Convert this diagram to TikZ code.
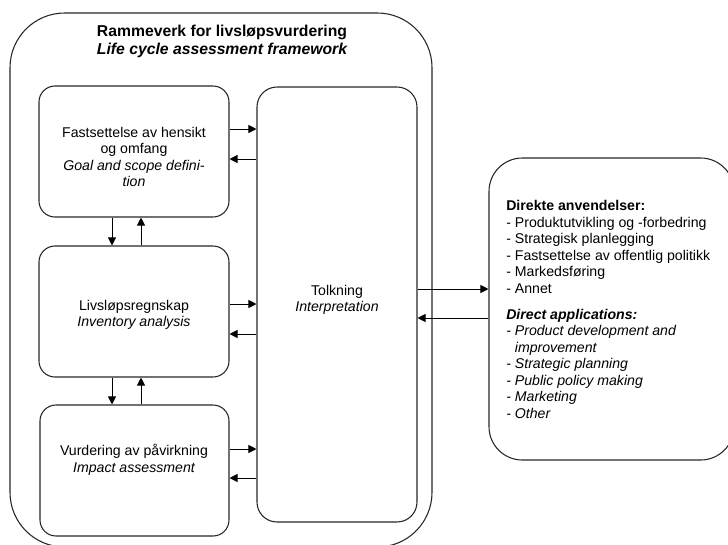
\documentclass[tikz,border=0pt]{standalone}
\usepackage{fontspec}
\setmainfont{Liberation Sans}
\usetikzlibrary{fit,arrows.meta}
\begin{document}
\begin{tikzpicture}[x=0.75pt,y=-0.75pt,
 box/.style={draw=black!85, line width=0.8pt, rounded corners=12pt, inner sep=0pt},
 arr/.style={draw, line width=0.75pt, -{Triangle[length=6pt,width=6pt]}},
 txt/.style={font=\fontsize{10.6pt}{12.4pt}\selectfont, align=center, inner sep=0pt}]
\useasboundingbox (0,0) rectangle (728,544);
\clip (0,0) rectangle (728,544);
% boxes
\node[box, rounded corners=41pt, fit={(10,13)(432,547)}] (frame) {};
\node[box, fit={(39,86)(229,217)}] (goal) {};
\node[box, fit={(39,246)(229,377)}] (inv) {};
\node[box, fit={(40,405)(229,536)}] (imp) {};
\node[box, rounded corners=15pt, fit={(257,87)(417,522)}] (interp) {};
\node[box, rounded corners=25pt, fit={(489,158)(734,460)}] (apps) {};
% texts
\node[font=\fontsize{11.8pt}{13.5pt}\selectfont\bfseries, align=center, inner sep=0pt] (title) at (222,41)
 {Rammeverk for livsløpsvurdering\\{\itshape Life cycle assessment framework}};
\node[txt] (goalT) at (134,157) {Fastsettelse av hensikt\\og omfang\\{\itshape Goal and scope defini-}\\{\itshape tion}};
\node[txt] (invT) at (134,315) {Livsløpsregnskap\\{\itshape Inventory analysis}};
\node[txt] (impT) at (134,460) {Vurdering av påvirkning\\{\itshape Impact assessment}};
\node[txt] (interpT) at (337,300) {Tolkning\\{\itshape Interpretation}};
\node[txt, align=left, anchor=north west] (appsT) at (506,200)
 {{\bfseries Direkte anvendelser:}\\
  - Produktutvikling og -forbedring\\
  - Strategisk planlegging\\
  - Fastsettelse av offentlig politikk\\
  - Markedsføring\\
  - Annet\\[7pt]
  {\bfseries\itshape Direct applications:}\\
  {\itshape - Product development and}\\
  {\itshape \hphantom{-}\ improvement}\\
  {\itshape - Strategic planning}\\
  {\itshape - Public policy making}\\
  {\itshape - Marketing}\\
  {\itshape - Other}};
% connector coordinates
\coordinate (ya) at (0,129);
\coordinate (yb) at (0,159);
\coordinate (yc) at (0,304);
\coordinate (yd) at (0,334);
\coordinate (ye) at (0,449);
\coordinate (yf) at (0,478);
\coordinate (yg) at (0,289);
\coordinate (yh) at (0,318);
\coordinate (xa) at (112,0);
\coordinate (xb) at (141,0);
% connectors
\draw[arr] (goal.east |- ya) -- (interp.west |- ya);
\draw[arr] (interp.west |- yb) -- (goal.east |- yb);
\draw[arr] (inv.east |- yc) -- (interp.west |- yc);
\draw[arr] (interp.west |- yd) -- (inv.east |- yd);
\draw[arr] (imp.east |- ye) -- (interp.west |- ye);
\draw[arr] (interp.west |- yf) -- (imp.east |- yf);
\draw[arr] (goal.south -| xa) -- (inv.north -| xa);
\draw[arr] (inv.north -| xb) -- (goal.south -| xb);
\draw[arr] (inv.south -| xa) -- (imp.north -| xa);
\draw[arr] (imp.north -| xb) -- (inv.south -| xb);
\draw[arr] (interp.east |- yg) -- (apps.west |- yg);
\draw[arr] (apps.west |- yh) -- (interp.east |- yh);
\end{tikzpicture}
\end{document}
